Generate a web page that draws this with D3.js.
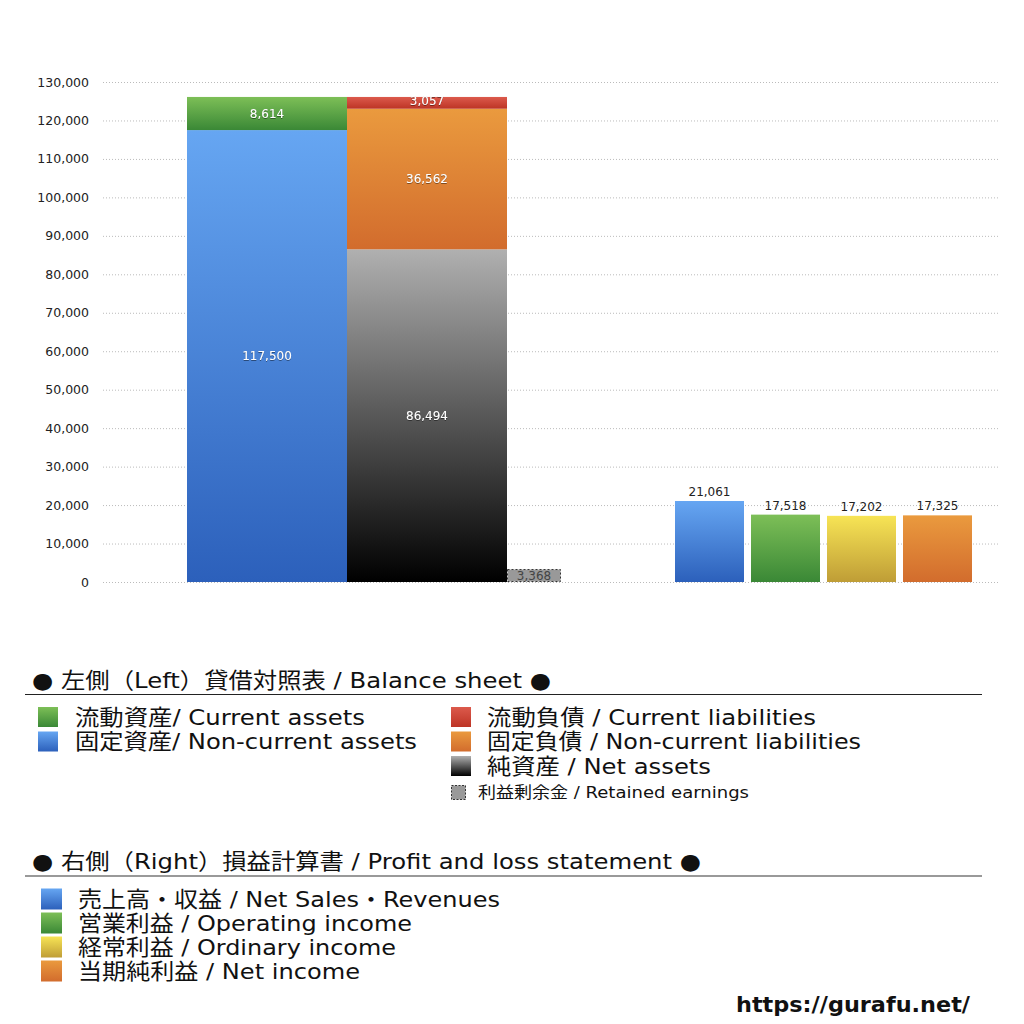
<!DOCTYPE html>
<html><head><meta charset="utf-8">
<script src="https://cdn.jsdelivr.net/npm/d3@7"></script>
<style>body{margin:0;background:#fff}svg{display:block;font-family:"DejaVu Sans","Noto Sans CJK JP",sans-serif}</style>
</head><body><svg id="c" width="1024" height="1024"></svg>
<script>
// ---- data ----
const yTicks = [0,10000,20000,30000,40000,50000,60000,70000,80000,90000,100000,110000,120000,130000];
const assetNames = ["固定資産","流動資産"];
const assetValues = [117500, 8614];
const liabNames = ["純資産","固定負債","流動負債"];
const liabValues = [86494, 36562, 3057];
const retainedValue = 3368;
const plNames = ["売上高・収益","営業利益","経常利益","当期純利益"];
const plValues = [21061, 17518, 17202, 17325];
const bsTitle = "● 左側（Left）貸借対照表 / Balance sheet ●";
const plTitle = "● 右側（Right）損益計算書 / Profit and loss statement ●";
const bsLegendLeft = ["流動資産/ Current assets","固定資産/ Non-current assets"];
const bsLegendRight = ["流動負債 /  Current liabilities","固定負債 / Non-current liabilities","純資産 / Net assets"];
const retainedLabel = "利益剰余金 / Retained earnings";
const plLegend = ["売上高・収益 / Net Sales・Revenues","営業利益 / Operating income","経常利益 / Ordinary income","当期純利益 / Net income"];
const siteUrl = "https://gurafu.net/";

// ---- styles / layout (separate from data) ----
const grads = {
  blue:["#66a6f2","#2c60bb"], green:["#7dbf57","#3a8836"], red:["#dc5a4c","#bd3425"],
  orange:["#ea9a3e","#d26c2d"], gray:["#b0b0b0","#000000"], yellow:["#f7e455","#bf9d36"]
};
const assetColors = ["blue","green"];
const liabColors = ["gray","orange","red"];
const plColors = ["blue","green","yellow","orange"];
const bsLeftColors = ["green","blue"];
const bsRightColors = ["red","orange","gray"];
const textWidths = {
  bsTitle:519, plTitle:669,
  bsLeft:[290,342], bsRight:[329,374,224], retained:271,
  pl:[422,334,318,282], url:234
};

const svg = d3.select("#c");
const defs = svg.append("defs");
Object.entries(grads).forEach(([k,[a,b]])=>{
  const g = defs.append("linearGradient").attr("id","g-"+k).attr("x1",0).attr("y1",0).attr("x2",0).attr("y2",1);
  g.append("stop").attr("offset","0%").attr("stop-color",a);
  g.append("stop").attr("offset","100%").attr("stop-color",b);
});
const sh = defs.append("filter").attr("id","sh").attr("x","-20%").attr("y","-50%").attr("width","140%").attr("height","200%");
sh.append("feDropShadow").attr("dx",0).attr("dy",0.6).attr("stdDeviation",0.6).attr("flood-color","#000").attr("flood-opacity",0.7);

const y = d3.scaleLinear().domain([0,130000]).range([582,82]);
const xL = d3.scaleBand().domain(["assets","liab"]).range([187,507]);
const xR = d3.scaleBand().domain(plNames).range([675,972]).paddingInner(7/76);
const fmt = d3.format(",");

// grid
const grid = svg.append("g");
grid.selectAll("line").data(yTicks).join("line")
  .attr("x1",103).attr("x2",1000).attr("y1",d=>y(d)+0.5).attr("y2",d=>y(d)+0.5)
  .attr("stroke","#bbb").attr("stroke-width",1).attr("stroke-dasharray","1,2");
// axis
const ax = svg.append("g").attr("transform","translate(89,0)").call(d3.axisLeft(y).tickValues(yTicks).tickFormat(fmt).tickSize(0).tickPadding(0));
ax.select(".domain").remove();
ax.selectAll("text").attr("font-size",12.5).attr("fill","#222").attr("font-family","'DejaVu Sans','Noto Sans CJK JP',sans-serif");

function stack(vals){let s=0;return vals.map(v=>{const o={y0:s,y1:s+v,v};s+=v;return o;});}
const aS = stack(assetValues), lS = stack(liabValues);

const bars = svg.append("g");
bars.selectAll(".a").data(aS).join("rect")
  .attr("x",xL("assets")).attr("width",xL.bandwidth())
  .attr("y",d=>y(d.y1)).attr("height",d=>y(d.y0)-y(d.y1))
  .attr("fill",(d,i)=>`url(#g-${assetColors[i]})`);
bars.selectAll(".l").data(lS).join("rect")
  .attr("x",xL("liab")).attr("width",xL.bandwidth())
  .attr("y",d=>y(d.y1)).attr("height",d=>y(d.y0)-y(d.y1))
  .attr("fill",(d,i)=>`url(#g-${liabColors[i]})`);
// retained earnings
bars.append("rect").attr("x",xL("liab")+xL.bandwidth()+0.5).attr("width",54-1)
  .attr("y",y(retainedValue)+0.5).attr("height",y(0)-y(retainedValue)-1)
  .attr("fill","#999").attr("stroke","#333").attr("stroke-dasharray","2,2");
// PL bars
bars.selectAll(".p").data(plValues).join("rect")
  .attr("x",(d,i)=>xR(plNames[i])).attr("width",xR.bandwidth())
  .attr("y",d=>y(d)).attr("height",d=>y(0)-y(d))
  .attr("fill",(d,i)=>`url(#g-${plColors[i]})`);

// labels
const lab = svg.append("g").attr("font-size",12).attr("text-anchor","middle").attr("font-family","'DejaVu Sans','Noto Sans CJK JP',sans-serif");
function inLabel(x,d,dy){
  lab.append("text").attr("x",x).attr("y",(y(d.y0)+y(d.y1))/2+(dy||0)).attr("dy","0.35em")
    .attr("fill","#fff").attr("filter","url(#sh)").text(fmt(d.v));
}
aS.forEach(d=>inLabel(xL("assets")+xL.bandwidth()/2,d));
lS.forEach((d,i)=>inLabel(xL("liab")+xL.bandwidth()/2,d,i===2?-2:0));
lab.append("text").attr("x",xL("liab")+xL.bandwidth()+27).attr("y",(y(0)+y(retainedValue))/2).attr("dy","0.35em")
  .attr("fill","#444").text(fmt(retainedValue));
plValues.forEach((v,i)=>{
  lab.append("text").attr("x",xR(plNames[i])+xR.bandwidth()/2).attr("y",y(v)-5).attr("fill","#222").text(fmt(v));
});

// legends
const lg = svg.append("g").attr("fill","#111");
function swatch(x,yc,c,size){
  lg.append("rect").attr("x",x).attr("y",yc-size/2).attr("width",size).attr("height",size).attr("fill",`url(#g-${c})`);
}
function txt(x,yc,t,fs,w,extra){
  const e = lg.append("text").attr("x",x).attr("y",yc).attr("dy","0.36em").attr("font-size",fs).text(t);
  if(w) e.attr("textLength",w).attr("lengthAdjust","spacingAndGlyphs");
  if(extra) extra(e);
  return e;
}
txt(32,680,bsTitle,22,textWidths.bsTitle);
lg.append("line").attr("x1",25).attr("x2",982).attr("y1",694.5).attr("y2",694.5).attr("stroke","#222").attr("stroke-width",1.2);
bsLegendLeft.forEach((t,i)=>{swatch(38,717+i*24.5,bsLeftColors[i],20);txt(75,717+i*24.5,t,22,textWidths.bsLeft[i]);});
bsLegendRight.forEach((t,i)=>{swatch(451,717+i*24.5,bsRightColors[i],20);txt(487,717+i*24.5,t,22,textWidths.bsRight[i]);});
lg.append("rect").attr("x",451.5).attr("y",785.5).attr("width",14).attr("height",14).attr("fill","#999").attr("stroke","#333").attr("stroke-dasharray","2,1.5");
txt(478,792,retainedLabel,16,textWidths.retained);

txt(32,861,plTitle,22,textWidths.plTitle);
lg.append("line").attr("x1",25).attr("x2",982).attr("y1",876).attr("y2",876).attr("stroke","#777").attr("stroke-width",1.5);
plLegend.forEach((t,i)=>{swatch(41,899+i*24,plColors[i],21);txt(78,899+i*24,t,22,textWidths.pl[i]);});

txt(736,1004,siteUrl,22,textWidths.url,e=>e.attr("font-weight","bold"));
</script></body></html>
